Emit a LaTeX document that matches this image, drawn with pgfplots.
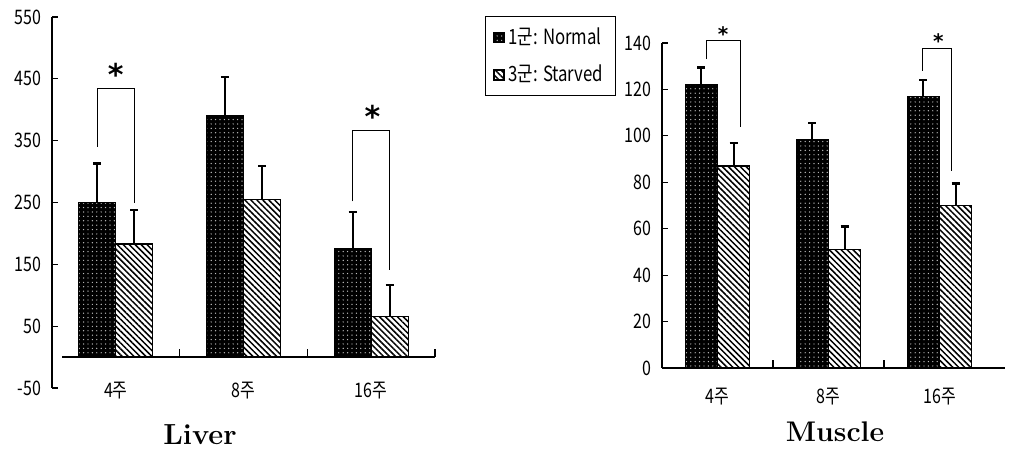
\documentclass[border=0pt]{standalone}
\usepackage{fontspec}
\usepackage{pgfplots}
\pgfplotsset{compat=1.18}
\usetikzlibrary{patterns.meta}
\newfontfamily\kr[FakeStretch=0.8]{Noto Sans CJK KR}
\newfontfamily\djv{DejaVu Sans}

\pgfplotsset{
  darkbar/.style={fill=black, draw=black, line width=0.6pt,
    postaction={pattern={Dots[radius=0.35pt,distance=2.2pt]}, pattern color=white!75!black}},
  hatchbar/.style={fill=white, draw=black, line width=0.6pt,
    postaction={pattern={Lines[angle=-45,distance=2.1pt,line width=0.75pt]}, pattern color=black}},
  errs/.style={error bars/.cd, y dir=plus, y explicit, error mark=-,
    error bar style={line width=1pt, black},
    error mark options={line width=1.2pt, mark size=2pt, black, rotate=90}},
  base/.style={scale only axis, ybar, bar width=0.29, clip=false,
    xmin=-0.5, xmax=2.5,
    axis y line=left, axis x line=bottom,
    y axis line style={-, line width=0.7pt},
    xtick={0,1,2}, xticklabels={4주,8주,16주},
    xtick style={draw=none},
    ytick style={line width=0.6pt, black},
    tick align=inside, major tick length=3pt,
    tick label style={font=\kr\fontsize{10}{12}\selectfont},
    /pgf/number format/assume math mode=true,
    yticklabel style={xshift=-2pt},
  },
}

\begin{document}
\begin{tikzpicture}
\useasboundingbox (0,0) rectangle (504.5pt,227pt);

% Liver
\begin{axis}[base,
  at={(26pt,33pt)}, anchor=south west,
  width=191.5pt, height=185.5pt,
  ymin=-50, ymax=550, ytick={-50,50,...,550},
  x axis line style={draw=none},
  xticklabel style={anchor=center, yshift=-1.5pt},
]
\addplot[darkbar, bar shift=-0.145, errs] coordinates {
  (0,250) +- (0,63)
  (1,390) +- (0,63)
  (2,175) +- (0,60)
};
\addplot[hatchbar, bar shift=0.145, errs] coordinates {
  (0,183) +- (0,55)
  (1,255) +- (0,54)
  (2,65)  +- (0,52)
};
\draw[line width=0.7pt] (axis cs:-0.42,0) -- (axis cs:2.5,0);
\draw[line width=0.7pt] (axis cs:0.5,0) -- ([yshift=4pt]axis cs:0.5,0);
\draw[line width=0.7pt] (axis cs:1.5,0) -- ([yshift=4pt]axis cs:1.5,0);
\draw[line width=0.7pt] (axis cs:2.5,0) -- ([yshift=4pt]axis cs:2.5,0);
% significance brackets
\draw[line width=0.5pt] (axis cs:-0.145,340) |- (axis cs:0.145,435) -- (axis cs:0.145,249);
\draw[line width=0.5pt] (axis cs:1.855,252) |- (axis cs:2.145,367) -- (axis cs:2.145,141);
\node[font=\djv\bfseries\fontsize{15}{16}\selectfont] at (axis cs:0,458) {*};
\node[font=\djv\bfseries\fontsize{15}{16}\selectfont] at (axis cs:2.01,390) {*};
\end{axis}

% Muscle
\begin{axis}[base,
  at={(331pt,43pt)}, anchor=south west,
  width=166.5pt, height=162.5pt,
  ymin=0, ymax=140, ytick={0,20,...,140},
  x axis line style={-, line width=0.7pt, shorten >=-5pt},
  xticklabel style={anchor=center, yshift=-14.5pt},
  legend style={at={(-0.532,1.083)}, anchor=north west, draw=black,
    line width=0.5pt, font=\kr\fontsize{10.5}{12}\selectfont,
    row sep=5pt, inner xsep=4pt, inner ysep=3.5pt},
  legend cell align=left,
  legend image code/.code={\draw[#1] (0pt,-2.5pt) rectangle (5pt,2.5pt);},
]
\addplot[darkbar, bar shift=-0.145, errs] coordinates {
  (0,122) +- (0,7.5)
  (1,98.5) +- (0,7)
  (2,117) +- (0,7)
};
\addplot[hatchbar, bar shift=0.145, errs] coordinates {
  (0,87) +- (0,10)
  (1,51) +- (0,10)
  (2,70) +- (0,9.5)
};
\legend{1군: Normal, 3군: Starved}
\draw[line width=0.7pt] (axis cs:0.5,0) -- ([yshift=4pt]axis cs:0.5,0);
\draw[line width=0.7pt] (axis cs:1.5,0) -- ([yshift=4pt]axis cs:1.5,0);
\draw[line width=0.5pt] (axis cs:-0.10,133) |- (axis cs:0.21,141) -- (axis cs:0.21,104);
\draw[line width=0.5pt] (axis cs:1.85,128) |- (axis cs:2.11,137.5) -- (axis cs:2.11,85);
\node[font=\djv\bfseries\fontsize{10}{12}\selectfont] at (axis cs:0.05,144) {*};
\node[font=\djv\bfseries\fontsize{10}{12}\selectfont] at (axis cs:1.99,141) {*};
\end{axis}

\node[font=\bfseries\fontsize{14.5}{16}\selectfont] at (100pt,9.5pt) {Liver};
\node[font=\bfseries\fontsize{14.2}{16}\selectfont] at (417.5pt,11pt) {Muscle};
\end{tikzpicture}
\end{document}
